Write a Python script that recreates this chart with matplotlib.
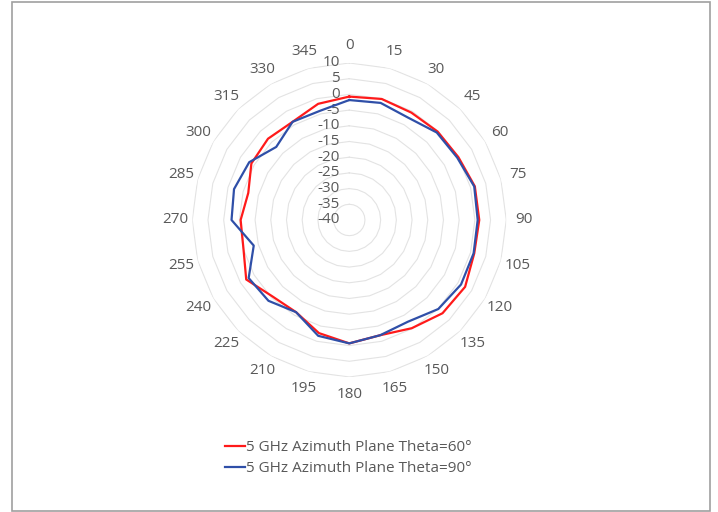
import matplotlib.pyplot as plt
import numpy as np
from matplotlib.patches import Rectangle

angles = list(range(0, 360, 15))
theta60 = [-0.7, -0.1, -0.5, -0.2, 0.1, 1.4, 1.4, 1.2, 2.6, 2.0, -0.2, -2.0,
           -0.7, -2.7, -6.1, -5.5, -2.1, -5.1, -5.4, -6.7, -4.0, -3.4, -3.9, -1.7]
theta90 = [-1.8, -1.4, -2.4, -0.6, -0.3, 1.2, 0.9, 1.0, 1.1, 0.1, -2.6, -2.0,
           -0.7, -1.8, -6.1, -3.6, -3.0, -8.5, -2.5, -2.0, -3.2, -7.1, -3.9, -4.0]
r_ticks = list(range(-40, 11, 5))
series_names = ["5 GHz Azimuth Plane Theta=60°", "5 GHz Azimuth Plane Theta=90°"]

plt.rcParams['font.family'] = ['Open Sans', 'DejaVu Sans']
txt_color = '#595959'
fs = 11

fig = plt.figure(figsize=(7.18, 5.12), dpi=100)
ax = fig.add_axes([0.2678, 0.2637, 0.4373, 0.6133], projection='polar')
ax.set_theta_zero_location('N')
ax.set_theta_direction(-1)
ax.set_rlim(-40, 10)
ax.grid(False)
ax.set_xticks([])
ax.set_yticks([])
ax.spines['polar'].set_visible(False)
ax.patch.set_alpha(0)

th = np.deg2rad(angles + [angles[0]])

# polygon gridlines
for r in r_ticks[1:]:
    ax.plot(th, [r] * len(th), color='#e3e3e3', lw=0.8, zorder=1)

# radial value labels
for r in r_ticks:
    ax.annotate(str(r), xy=(0, r), xytext=(-7, 0), textcoords='offset points',
                ha='right', va='center', fontsize=fs, color=txt_color,
                annotation_clip=False)

# category labels
for a in angles:
    ax.text(np.deg2rad(a), 15.5, str(a), ha='center', va='center',
            fontsize=fs, color=txt_color, clip_on=False)

ax.plot(th, theta60 + [theta60[0]], color='#ff1a1a', lw=1.6, zorder=3,
        label=series_names[0])
ax.plot(th, theta90 + [theta90[0]], color='#2f4fa8', lw=1.6, zorder=4,
        label=series_names[1])

fig.legend(loc='center', bbox_to_anchor=(0.485, 0.105), frameon=False,
           fontsize=fs, handlelength=1.3, handletextpad=0.1,
           labelspacing=0.4, labelcolor=txt_color)

fig.patches.append(Rectangle((11.5 / 718, 1 / 512), 698.5 / 718, 509.5 / 512,
                             transform=fig.transFigure, fill=False,
                             edgecolor='#a0a0a0', lw=1.2))

fig.savefig('out.png', dpi=100)
